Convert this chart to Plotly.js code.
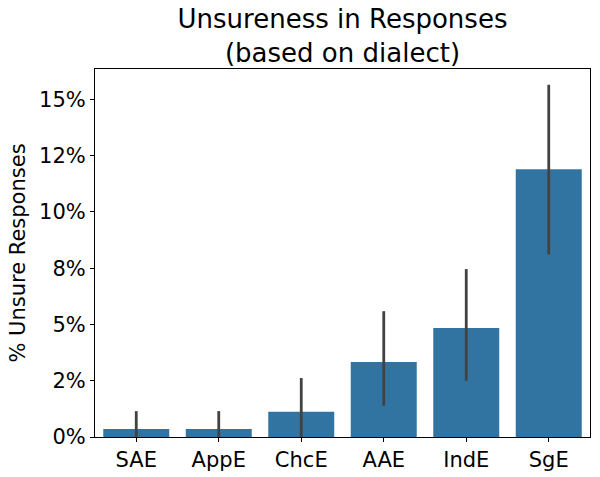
<!DOCTYPE html>
<html>
<head>
<meta charset="utf-8">
<script src="https://cdn.plot.ly/plotly-3.0.1.min.js"></script>
<style>html,body{margin:0;padding:0;background:#fff;}#chart{width:600px;height:477px;}</style>
</head>
<body>
<div id="chart"></div>
<script>
const dialects = ["SAE", "AppE", "ChcE", "AAE", "IndE", "SgE"];
const unsurePct = [0.35, 0.35, 1.12, 3.33, 4.84, 11.9];
const ciLow = [0.0, 0.0, 0.0, 1.39, 2.5, 8.11];
const ciHigh = [1.15, 1.15, 2.62, 5.59, 7.46, 15.65];
const yTickVals = [0, 2.5, 5, 7.5, 10, 12.5, 15];
const yTickText = ["0%", "2%", "5%", "8%", "10%", "12%", "15%"];

const errPlus = ciHigh.map((h, i) => h - unsurePct[i]);
const errMinus = ciLow.map((l, i) => unsurePct[i] - l);

const font = "DejaVu Sans, sans-serif";
const trace = {
  type: "bar",
  x: dialects,
  y: unsurePct,
  width: 0.8,
  marker: {color: "#3274a1", line: {width: 0}},
  error_y: {
    type: "data", symmetric: false,
    array: errPlus, arrayminus: errMinus,
    color: "#424242", thickness: 2.8, width: 0
  },
  hoverinfo: "x+y"
};

const layout = {
  width: 600, height: 477,
  margin: {l: 95, r: 10, t: 69, b: 40},
  paper_bgcolor: "#fff", plot_bgcolor: "#fff",
  showlegend: false,
  font: {family: font, color: "#000"},
  title: {
    text: "Unsureness in Responses<br>(based on dialect)",
    font: {family: font, size: 26, color: "#000"},
    x: (95 + 590) / 2 / 600, xref: "container", xanchor: "center",
    y: 1 - 28 / 477, yref: "container", yanchor: "top"
  },
  xaxis: {
    type: "category",
    range: [-0.5, 5.5],
    showline: true, linecolor: "#000", linewidth: 1, mirror: true,
    ticks: "outside", ticklen: 4, tickcolor: "#000",
    tickfont: {family: font, size: 21, color: "#000"},
    showgrid: false, zeroline: false
  },
  yaxis: {
    range: [0, 16.35],
    tickvals: yTickVals, ticktext: yTickText,
    showline: true, linecolor: "#000", linewidth: 1, mirror: true,
    ticks: "outside", ticklen: 4, tickcolor: "#000",
    tickfont: {family: font, size: 21, color: "#000"},
    showgrid: false, zeroline: false,
    title: {text: "% Unsure Responses", font: {family: font, size: 21, color: "#000"}, standoff: 7}
  }
};

Plotly.newPlot("chart", [trace], layout, {displayModeBar: false, staticPlot: true});
</script>
</body>
</html>
